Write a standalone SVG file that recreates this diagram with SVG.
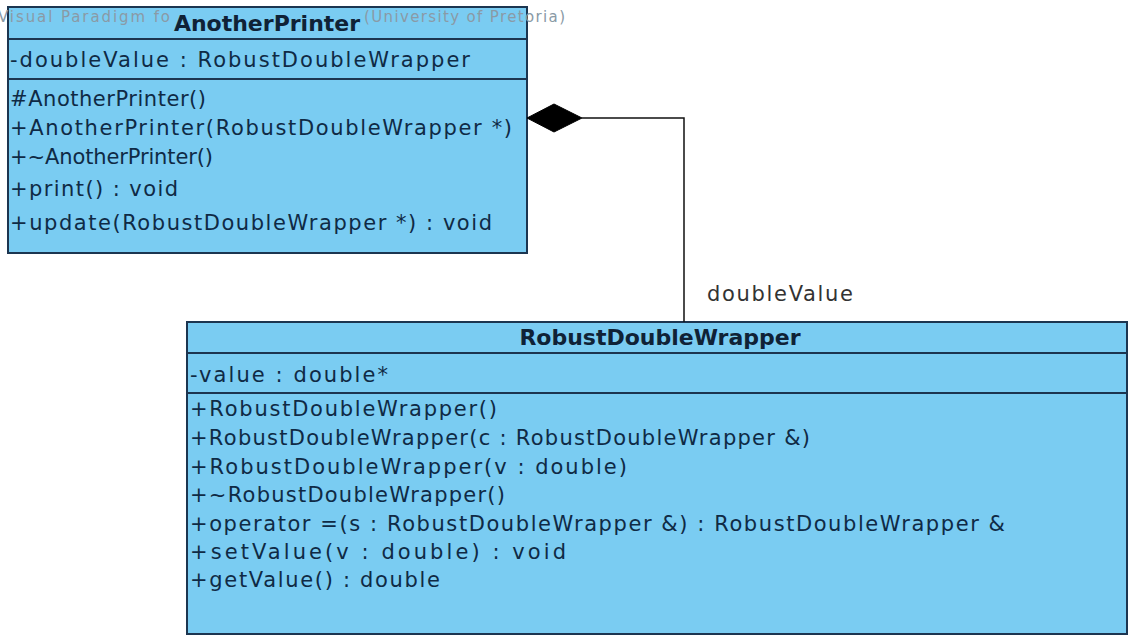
<svg xmlns="http://www.w3.org/2000/svg" width="1131" height="637" viewBox="0 0 1131 637">
<style>
.box{fill:#7ACCF2;stroke:#1C3550;stroke-width:2}
.div{stroke:#1C3550;stroke-width:2}
.t{font-family:"DejaVu Sans",Verdana,sans-serif;font-size:21px;fill:#0F2A45}
.title{font-family:"DejaVu Sans",Verdana,sans-serif;font-size:22px;font-weight:bold;fill:#0F2236;text-anchor:middle}
.wm{font-family:"DejaVu Sans",Verdana,sans-serif;font-size:15px;fill:#8A9AA6}
.lbl{font-family:"DejaVu Sans",Verdana,sans-serif;font-size:21px;fill:#333333}
.conn{fill:none;stroke:#111111;stroke-width:1.5}
</style>
<rect width="1131" height="637" fill="#FFFFFF"/>
<g id="AnotherPrinter">
<rect class="box" x="8" y="7" width="519" height="246"/>
<line class="div" x1="8" y1="39" x2="527" y2="39"/>
<line class="div" x1="8" y1="79" x2="527" y2="79"/>
<text class="wm" x="-2" y="22" textLength="172">Visual Paradigm fo</text>
<text class="wm" x="364" y="22" textLength="201">(University of Pretoria)</text>
<text class="title" x="267" y="31">AnotherPrinter</text>
<text class="t" x="10" y="67" textLength="460">-doubleValue : RobustDoubleWrapper</text>
<text class="t" x="10" y="106" textLength="196">#AnotherPrinter()</text>
<text class="t" x="10" y="135" textLength="502">+AnotherPrinter(RobustDoubleWrapper *)</text>
<text class="t" x="10" y="164" textLength="203">+~AnotherPrinter()</text>
<text class="t" x="10" y="196" textLength="168">+print() : void</text>
<text class="t" x="10" y="230" textLength="482">+update(RobustDoubleWrapper *) : void</text>
</g>
<g id="RobustDoubleWrapper">
<rect class="box" x="187" y="322" width="940" height="312"/>
<line class="div" x1="187" y1="353" x2="1127" y2="353"/>
<line class="div" x1="187" y1="393" x2="1127" y2="393"/>
<text class="title" x="660" y="345">RobustDoubleWrapper</text>
<text class="t" x="190" y="382" textLength="198">-value : double*</text>
<text class="t" x="190" y="416" textLength="307">+RobustDoubleWrapper()</text>
<text class="t" x="190" y="445" textLength="620">+RobustDoubleWrapper(c : RobustDoubleWrapper &amp;)</text>
<text class="t" x="190" y="474" textLength="437">+RobustDoubleWrapper(v : double)</text>
<text class="t" x="190" y="502" textLength="315">+~RobustDoubleWrapper()</text>
<text class="t" x="190" y="531" textLength="815">+operator =(s : RobustDoubleWrapper &amp;) : RobustDoubleWrapper &amp;</text>
<text class="t" x="190" y="559" textLength="376">+setValue(v : double) : void</text>
<text class="t" x="190" y="587" textLength="250">+getValue() : double</text>
</g>
<g id="connectors">
<polyline class="conn" points="582,118 684,118 684,322"/>
<polygon points="527,118 554,104 582,118 554,132" fill="#000000" stroke="#000000" stroke-width="1"/>
<text class="lbl" x="707" y="301" textLength="146">doubleValue</text>
</g>
</svg>
